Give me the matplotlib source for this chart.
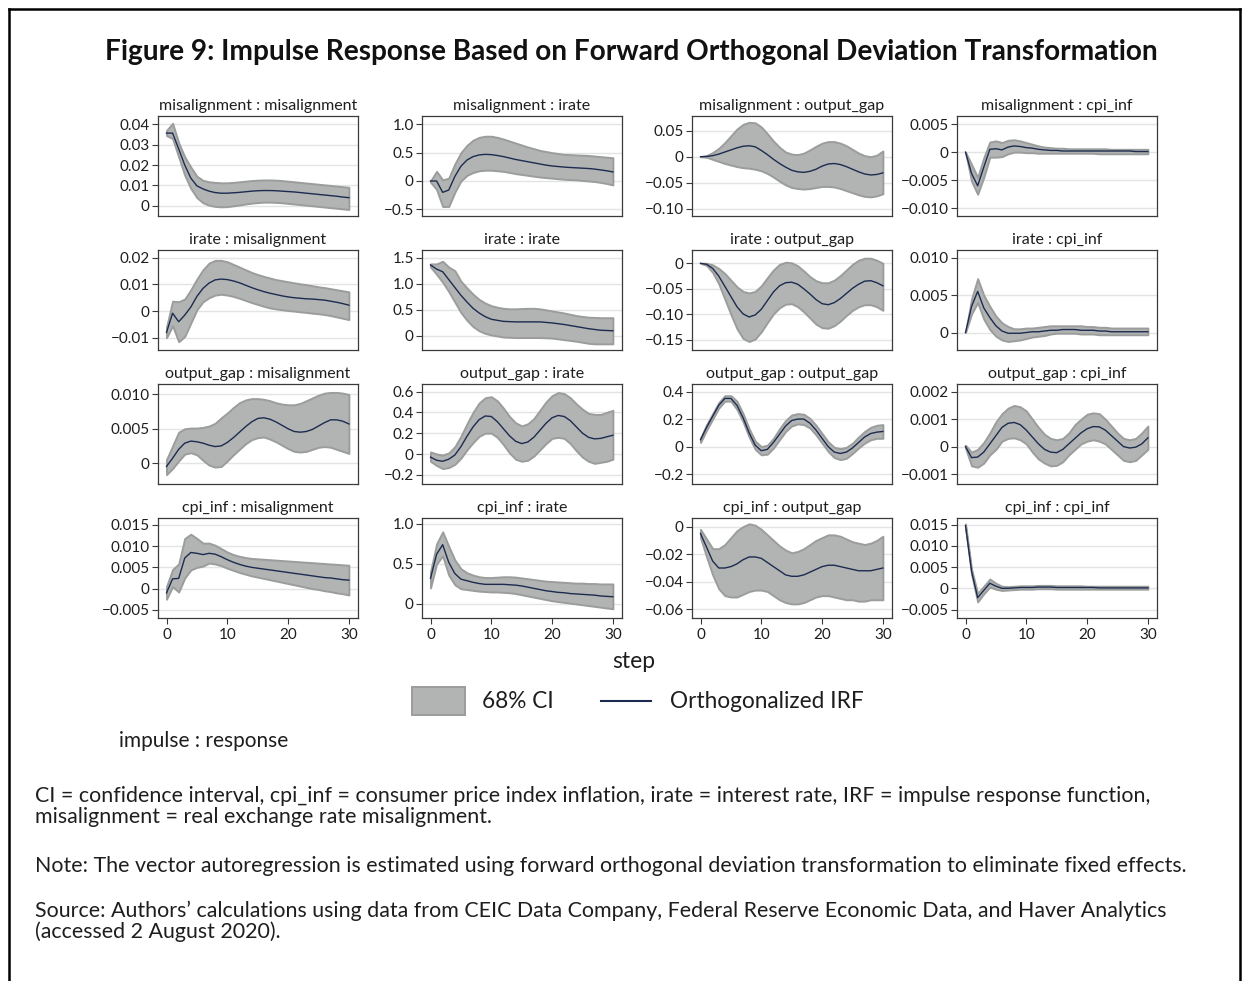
import numpy as np
import matplotlib
matplotlib.use("Agg")
import matplotlib.pyplot as plt
from matplotlib.lines import Line2D
from matplotlib.patches import Rectangle

plt.rcParams['font.family'] = ['Lato', 'DejaVu Sans']

W, H = 1246, 981

steps = np.arange(31)
variables = ["misalignment", "irate", "output_gap", "cpi_inf"]

# ---- impulse: misalignment ----
mis_mis_irf = [0.0357,0.0357,0.0280,0.0200,0.0136,0.0098,0.0083,0.0072,0.0065,0.0062,0.0062,0.0064,0.0066,0.0069,0.0072,0.0074,0.0075,0.0075,0.0074,0.0072,0.0070,0.0068,0.0065,0.0062,0.0059,0.0056,0.0053,0.0050,0.0047,0.0043,0.0040]
mis_mis_lo = [0.0345,0.0330,0.0240,0.0150,0.0085,0.0040,0.0015,0.0003,-0.0003,-0.0005,-0.0004,0.0000,0.0004,0.0009,0.0013,0.0016,0.0018,0.0018,0.0017,0.0015,0.0012,0.0009,0.0006,0.0003,0.0000,-0.0003,-0.0006,-0.0009,-0.0012,-0.0015,-0.0018]
mis_mis_hi = [0.0370,0.0405,0.0310,0.0240,0.0190,0.0145,0.0125,0.0118,0.0115,0.0113,0.0113,0.0115,0.0118,0.0121,0.0124,0.0126,0.0127,0.0127,0.0126,0.0124,0.0121,0.0118,0.0115,0.0112,0.0109,0.0106,0.0103,0.0100,0.0097,0.0094,0.0091]

mis_irate_irf = [0.0,0.0,-0.20,-0.16,0.08,0.26,0.37,0.43,0.46,0.47,0.465,0.45,0.43,0.405,0.38,0.36,0.34,0.32,0.30,0.28,0.265,0.255,0.245,0.238,0.232,0.226,0.22,0.21,0.195,0.18,0.16]
mis_irate_lo = [-0.02,-0.15,-0.45,-0.45,-0.20,0.0,0.10,0.15,0.18,0.19,0.19,0.18,0.17,0.15,0.13,0.115,0.10,0.085,0.07,0.06,0.05,0.04,0.03,0.025,0.02,0.01,0.0,-0.01,-0.025,-0.045,-0.07]
mis_irate_hi = [0.0,0.17,0.02,0.05,0.30,0.50,0.63,0.72,0.77,0.79,0.79,0.77,0.74,0.705,0.67,0.635,0.60,0.57,0.54,0.52,0.50,0.485,0.47,0.465,0.46,0.455,0.45,0.44,0.43,0.42,0.41]

mis_gap_irf = [0.0,0.0005,0.002,0.005,0.009,0.013,0.017,0.020,0.021,0.019,0.012,0.004,-0.005,-0.013,-0.020,-0.026,-0.029,-0.030,-0.028,-0.024,-0.018,-0.014,-0.013,-0.015,-0.019,-0.024,-0.029,-0.033,-0.035,-0.034,-0.031]
mis_gap_lo = [0.0,-0.001,-0.005,-0.009,-0.013,-0.016,-0.019,-0.021,-0.022,-0.024,-0.027,-0.032,-0.039,-0.047,-0.054,-0.059,-0.061,-0.062,-0.061,-0.059,-0.057,-0.057,-0.058,-0.061,-0.065,-0.069,-0.073,-0.076,-0.077,-0.075,-0.071]
mis_gap_hi = [0.0,0.002,0.008,0.016,0.027,0.040,0.053,0.062,0.066,0.065,0.057,0.044,0.030,0.018,0.009,0.005,0.004,0.007,0.013,0.020,0.026,0.029,0.029,0.026,0.021,0.014,0.007,0.002,0.000,0.003,0.011]

mis_cpi_irf = [0.0,-0.0038,-0.0060,-0.0027,0.0005,0.0006,0.0004,0.0009,0.0011,0.0010,0.0008,0.0007,0.0005,0.0004,0.0003,0.0003,0.0002,0.0002,0.0002,0.0002,0.0002,0.0002,0.0002,0.0002,0.0002,0.0002,0.0002,0.0002,0.0001,0.0001,0.0001]
mis_cpi_lo = [0.0,-0.0052,-0.0075,-0.0045,-0.0009,-0.0009,-0.0008,-0.0003,0.0000,0.0000,-0.0001,-0.0001,-0.0002,-0.0002,-0.0002,-0.0002,-0.0002,-0.0002,-0.0002,-0.0002,-0.0002,-0.0002,-0.0003,-0.0003,-0.0003,-0.0003,-0.0003,-0.0003,-0.0003,-0.0003,-0.0003]
mis_cpi_hi = [0.0,-0.0022,-0.0045,-0.0010,0.0018,0.0020,0.0017,0.0021,0.0022,0.0020,0.0017,0.0014,0.0011,0.0009,0.0008,0.0007,0.0007,0.0006,0.0006,0.0006,0.0006,0.0006,0.0006,0.0006,0.0005,0.0005,0.0005,0.0005,0.0005,0.0005,0.0005]

# ---- impulse: irate ----
irate_mis_irf = [-0.0080,-0.0008,-0.0040,-0.0015,0.0015,0.0055,0.0085,0.0105,0.0117,0.0120,0.0118,0.0113,0.0106,0.0097,0.0088,0.0080,0.0073,0.0067,0.0062,0.0057,0.0053,0.0050,0.0048,0.0046,0.0045,0.0043,0.0041,0.0037,0.0033,0.0028,0.0022]
irate_mis_lo = [-0.0100,-0.0055,-0.0115,-0.0095,-0.0045,0.0005,0.0035,0.0050,0.0060,0.0063,0.0060,0.0055,0.0048,0.0040,0.0032,0.0025,0.0018,0.0012,0.0008,0.0005,0.0002,0.0000,-0.0003,-0.0005,-0.0008,-0.0010,-0.0013,-0.0017,-0.0022,-0.0027,-0.0032]
irate_mis_hi = [-0.0060,0.0037,0.0035,0.0045,0.0080,0.0120,0.0155,0.0180,0.0190,0.0190,0.0185,0.0175,0.0165,0.0155,0.0145,0.0137,0.0130,0.0124,0.0118,0.0114,0.0110,0.0106,0.0102,0.0099,0.0095,0.0091,0.0088,0.0084,0.0080,0.0076,0.0072]

irate_irate_irf = [1.36,1.28,1.23,1.08,0.93,0.78,0.65,0.53,0.44,0.37,0.32,0.30,0.28,0.275,0.27,0.27,0.27,0.27,0.27,0.26,0.25,0.235,0.22,0.20,0.18,0.16,0.14,0.125,0.11,0.105,0.10]
irate_irate_lo = [1.32,1.18,1.03,0.85,0.65,0.45,0.30,0.18,0.10,0.05,0.02,0.0,-0.02,-0.025,-0.03,-0.03,-0.03,-0.03,-0.03,-0.035,-0.04,-0.055,-0.07,-0.085,-0.10,-0.12,-0.14,-0.15,-0.15,-0.15,-0.15]
irate_irate_hi = [1.38,1.38,1.43,1.32,1.25,1.05,0.92,0.80,0.70,0.63,0.58,0.55,0.53,0.52,0.52,0.525,0.53,0.53,0.52,0.50,0.48,0.46,0.44,0.415,0.39,0.375,0.36,0.355,0.35,0.35,0.35]

irate_gap_irf = [0.0,-0.002,-0.010,-0.025,-0.045,-0.065,-0.085,-0.099,-0.105,-0.101,-0.090,-0.073,-0.056,-0.044,-0.038,-0.037,-0.041,-0.050,-0.060,-0.071,-0.079,-0.081,-0.077,-0.069,-0.059,-0.049,-0.041,-0.035,-0.034,-0.038,-0.044]
irate_gap_lo = [0.0,-0.004,-0.018,-0.040,-0.070,-0.100,-0.128,-0.147,-0.153,-0.148,-0.134,-0.116,-0.099,-0.087,-0.080,-0.079,-0.085,-0.095,-0.107,-0.119,-0.126,-0.127,-0.122,-0.113,-0.102,-0.092,-0.085,-0.081,-0.081,-0.085,-0.092]
irate_gap_hi = [0.0,0.0,-0.003,-0.010,-0.020,-0.033,-0.046,-0.055,-0.058,-0.055,-0.044,-0.028,-0.013,-0.002,0.002,0.001,-0.005,-0.015,-0.026,-0.034,-0.038,-0.038,-0.033,-0.024,-0.013,-0.002,0.006,0.010,0.010,0.006,0.000]

irate_cpi_irf = [0.0,0.0035,0.0055,0.0033,0.0020,0.0009,0.0002,-0.0001,-0.0001,-0.0001,0.0000,0.0001,0.0001,0.0002,0.0003,0.0003,0.0004,0.0004,0.0004,0.0003,0.0003,0.0003,0.0002,0.0002,0.0001,0.0001,0.0001,0.0001,0.0001,0.0001,0.0001]
irate_cpi_lo = [0.0,0.0025,0.0040,0.0018,0.0004,-0.0005,-0.0010,-0.0012,-0.0011,-0.0010,-0.0008,-0.0006,-0.0005,-0.0004,-0.0002,-0.0001,-0.0001,-0.0001,-0.0001,-0.0002,-0.0002,-0.0002,-0.0003,-0.0003,-0.0003,-0.0003,-0.0003,-0.0003,-0.0003,-0.0003,-0.0003]
irate_cpi_hi = [0.0,0.0045,0.0072,0.0050,0.0035,0.0022,0.0013,0.0008,0.0005,0.0005,0.0006,0.0006,0.0007,0.0008,0.0009,0.0009,0.0009,0.0009,0.0009,0.0009,0.0008,0.0008,0.0007,0.0007,0.0006,0.0006,0.0006,0.0006,0.0006,0.0006,0.0006]

# ---- impulse: output_gap ----
gap_mis_irf = [-0.0005,0.0007,0.0020,0.0029,0.0032,0.0031,0.0029,0.0026,0.0024,0.0025,0.0030,0.0037,0.0045,0.0053,0.0060,0.0065,0.0066,0.0064,0.0060,0.0055,0.0050,0.0046,0.0045,0.0046,0.0049,0.0054,0.0059,0.0063,0.0063,0.0061,0.0057]
gap_mis_lo = [-0.0017,-0.0008,0.0003,0.0013,0.0015,0.0012,0.0004,-0.0003,-0.0006,-0.0005,0.0003,0.0012,0.0020,0.0028,0.0034,0.0037,0.0038,0.0035,0.0031,0.0026,0.0021,0.0017,0.0016,0.0017,0.0020,0.0023,0.0024,0.0023,0.0020,0.0017,0.0014]
gap_mis_hi = [0.0005,0.0025,0.0045,0.0050,0.0051,0.0051,0.0052,0.0054,0.0058,0.0066,0.0073,0.0081,0.0088,0.0092,0.0094,0.0094,0.0093,0.0091,0.0088,0.0086,0.0085,0.0085,0.0087,0.0091,0.0095,0.0099,0.0102,0.0103,0.0103,0.0102,0.0100]

gap_irate_irf = [-0.03,-0.06,-0.07,-0.05,-0.01,0.07,0.17,0.26,0.33,0.365,0.36,0.31,0.242,0.174,0.122,0.10,0.115,0.161,0.228,0.295,0.348,0.37,0.36,0.32,0.26,0.20,0.16,0.145,0.15,0.165,0.18]
gap_irate_lo = [-0.07,-0.11,-0.14,-0.13,-0.10,-0.04,0.04,0.11,0.17,0.20,0.20,0.16,0.09,0.01,-0.05,-0.07,-0.06,-0.02,0.04,0.10,0.15,0.16,0.15,0.10,0.03,-0.03,-0.07,-0.09,-0.08,-0.07,-0.05]
gap_irate_hi = [0.02,0.0,-0.01,0.01,0.07,0.17,0.29,0.40,0.49,0.54,0.55,0.51,0.44,0.36,0.30,0.27,0.29,0.34,0.42,0.50,0.56,0.59,0.58,0.54,0.48,0.43,0.39,0.38,0.38,0.40,0.42]

gap_gap_irf = [0.05,0.14,0.22,0.30,0.35,0.35,0.30,0.21,0.10,0.01,-0.03,-0.02,0.03,0.09,0.15,0.19,0.20,0.20,0.17,0.12,0.06,0.0,-0.04,-0.05,-0.04,-0.01,0.03,0.07,0.095,0.105,0.11]
gap_gap_lo = [0.03,0.12,0.20,0.28,0.33,0.33,0.27,0.18,0.07,-0.02,-0.06,-0.055,-0.01,0.05,0.11,0.15,0.165,0.16,0.135,0.085,0.025,-0.035,-0.08,-0.095,-0.085,-0.05,-0.01,0.025,0.05,0.06,0.06]
gap_gap_hi = [0.06,0.16,0.24,0.32,0.37,0.37,0.33,0.24,0.13,0.04,0.0,0.01,0.06,0.13,0.19,0.23,0.24,0.235,0.205,0.155,0.095,0.035,-0.005,-0.015,-0.005,0.025,0.07,0.11,0.14,0.155,0.16]

gap_cpi_irf = [0.0,-0.00040,-0.00038,-0.00020,0.00010,0.00040,0.00070,0.00085,0.00088,0.00080,0.00060,0.00035,0.00010,-0.00010,-0.00020,-0.00022,-0.00010,0.00010,0.00030,0.00050,0.00065,0.00073,0.00072,0.00060,0.00040,0.00020,0.00000,-0.00005,-0.00002,0.00010,0.00032]
gap_cpi_lo = [-0.00005,-0.00070,-0.00075,-0.00060,-0.00030,-0.00010,0.00020,0.00030,0.00032,0.00025,0.00010,-0.00020,-0.00045,-0.00060,-0.00070,-0.00068,-0.00055,-0.00030,-0.00010,0.00010,0.00020,0.00025,0.00020,0.00010,-0.00010,-0.00030,-0.00050,-0.00055,-0.00050,-0.00030,-0.00010]
gap_cpi_hi = [0.00005,-0.00020,-0.00010,0.00015,0.00050,0.00090,0.00120,0.00140,0.00150,0.00145,0.00130,0.00100,0.00070,0.00045,0.00030,0.00025,0.00030,0.00050,0.00080,0.00100,0.00118,0.00123,0.00120,0.00100,0.00075,0.00050,0.00030,0.00025,0.00030,0.00050,0.00075]

# ---- impulse: cpi_inf ----
cpi_mis_irf = [-0.0010,0.0023,0.0024,0.0072,0.0085,0.0083,0.0080,0.0083,0.0081,0.0075,0.0068,0.0062,0.0057,0.0053,0.0050,0.0048,0.0046,0.0044,0.0042,0.0040,0.0038,0.0036,0.0034,0.0032,0.0030,0.0028,0.0026,0.0025,0.0023,0.0021,0.0020]
cpi_mis_lo = [-0.0025,0.0005,-0.0008,0.0025,0.0044,0.0050,0.0053,0.0060,0.0058,0.0054,0.0048,0.0043,0.0038,0.0034,0.0030,0.0027,0.0024,0.0021,0.0018,0.0015,0.0012,0.0009,0.0006,0.0003,0.0000,-0.0002,-0.0005,-0.0007,-0.0010,-0.0012,-0.0015]
cpi_mis_hi = [0.0005,0.0045,0.0058,0.0118,0.0128,0.0118,0.0107,0.0107,0.0102,0.0094,0.0086,0.0080,0.0076,0.0073,0.0071,0.0070,0.0069,0.0068,0.0067,0.0066,0.0065,0.0064,0.0063,0.0062,0.0061,0.0060,0.0059,0.0058,0.0057,0.0056,0.0055]

cpi_irate_irf = [0.32,0.62,0.74,0.52,0.38,0.31,0.29,0.27,0.255,0.245,0.245,0.245,0.245,0.24,0.235,0.225,0.21,0.195,0.18,0.165,0.155,0.145,0.14,0.13,0.125,0.12,0.115,0.11,0.10,0.095,0.09]
cpi_irate_lo = [0.20,0.50,0.60,0.36,0.24,0.19,0.18,0.17,0.16,0.155,0.15,0.15,0.145,0.14,0.13,0.115,0.10,0.085,0.07,0.055,0.04,0.03,0.02,0.01,0.0,-0.01,-0.02,-0.03,-0.04,-0.05,-0.06]
cpi_irate_hi = [0.40,0.75,0.90,0.72,0.55,0.44,0.39,0.36,0.34,0.33,0.33,0.335,0.34,0.34,0.335,0.325,0.315,0.305,0.295,0.285,0.28,0.275,0.27,0.265,0.26,0.26,0.255,0.255,0.25,0.25,0.25]

cpi_gap_irf = [-0.005,-0.015,-0.025,-0.030,-0.030,-0.029,-0.027,-0.024,-0.022,-0.022,-0.023,-0.026,-0.029,-0.032,-0.035,-0.036,-0.036,-0.035,-0.033,-0.031,-0.029,-0.028,-0.028,-0.029,-0.030,-0.031,-0.032,-0.032,-0.032,-0.031,-0.030]
cpi_gap_lo = [-0.008,-0.022,-0.035,-0.045,-0.050,-0.051,-0.051,-0.049,-0.047,-0.046,-0.046,-0.047,-0.050,-0.053,-0.055,-0.056,-0.056,-0.055,-0.053,-0.051,-0.050,-0.050,-0.051,-0.052,-0.053,-0.053,-0.054,-0.054,-0.053,-0.053,-0.053]
cpi_gap_hi = [-0.002,-0.009,-0.016,-0.016,-0.013,-0.008,-0.003,0.000,0.002,0.001,-0.002,-0.006,-0.010,-0.014,-0.017,-0.019,-0.018,-0.016,-0.013,-0.010,-0.008,-0.006,-0.006,-0.007,-0.009,-0.011,-0.012,-0.013,-0.012,-0.010,-0.007]

cpi_cpi_irf = [0.0148,0.0040,-0.0022,-0.0005,0.0012,0.0005,0.0000,0.0000,0.0001,0.0002,0.0002,0.0002,0.0003,0.0003,0.0003,0.0002,0.0002,0.0002,0.0002,0.0002,0.0002,0.0002,0.0001,0.0001,0.0001,0.0001,0.0001,0.0001,0.0001,0.0001,0.0001]
cpi_cpi_lo = [0.0144,0.0033,-0.0032,-0.0013,0.0003,-0.0002,-0.0005,-0.0004,-0.0003,-0.0002,-0.0002,-0.0002,-0.0001,-0.0001,-0.0001,-0.0002,-0.0002,-0.0002,-0.0002,-0.0002,-0.0002,-0.0002,-0.0002,-0.0002,-0.0002,-0.0002,-0.0002,-0.0002,-0.0002,-0.0002,-0.0002]
cpi_cpi_hi = [0.0152,0.0045,-0.0012,0.0005,0.0022,0.0012,0.0005,0.0004,0.0005,0.0006,0.0006,0.0006,0.0007,0.0007,0.0007,0.0006,0.0006,0.0006,0.0006,0.0006,0.0005,0.0005,0.0005,0.0005,0.0005,0.0005,0.0005,0.0005,0.0005,0.0005,0.0005]

# y-axis ticks, label decimals and ranges for each panel (row = impulse, col = response)
yticks = [
    [[0, .01, .02, .03, .04], [-.5, 0, .5, 1.0], [-.10, -.05, 0, .05], [-.010, -.005, 0, .005]],
    [[-.01, 0, .01, .02], [0, .5, 1.0, 1.5], [-.15, -.10, -.05, 0], [0, .005, .010]],
    [[0, .005, .010], [-.2, 0, .2, .4, .6], [-.2, 0, .2, .4], [-.001, 0, .001, .002]],
    [[-.005, 0, .005, .010, .015], [0, .5, 1.0], [-.06, -.04, -.02, 0], [-.005, 0, .005, .010, .015]],
]
ydec = [[2, 1, 2, 3], [2, 1, 2, 3], [3, 1, 1, 3], [3, 1, 2, 3]]
ylims = [
    [(-0.005, 0.0441), (-0.618, 1.147), (-0.1136, 0.078), (-0.01137, 0.00643)],
    [(-0.0146, 0.0229), (-0.268, 1.646), (-0.1696, 0.026), (-0.00234, 0.01104)],
    [(-0.00306, 0.01153), (-0.288, 0.672), (-0.272, 0.455), (-0.00136, 0.00228)],
    [(-0.0069, 0.0166), (-0.175, 1.073), (-0.0662, 0.0062), (-0.007, 0.0166)],
]
xticks = [0, 10, 20, 30]

series = {
    (0, 0): (mis_mis_irf, mis_mis_lo, mis_mis_hi),
    (0, 1): (mis_irate_irf, mis_irate_lo, mis_irate_hi),
    (0, 2): (mis_gap_irf, mis_gap_lo, mis_gap_hi),
    (0, 3): (mis_cpi_irf, mis_cpi_lo, mis_cpi_hi),
    (1, 0): (irate_mis_irf, irate_mis_lo, irate_mis_hi),
    (1, 1): (irate_irate_irf, irate_irate_lo, irate_irate_hi),
    (1, 2): (irate_gap_irf, irate_gap_lo, irate_gap_hi),
    (1, 3): (irate_cpi_irf, irate_cpi_lo, irate_cpi_hi),
    (2, 0): (gap_mis_irf, gap_mis_lo, gap_mis_hi),
    (2, 1): (gap_irate_irf, gap_irate_lo, gap_irate_hi),
    (2, 2): (gap_gap_irf, gap_gap_lo, gap_gap_hi),
    (2, 3): (gap_cpi_irf, gap_cpi_lo, gap_cpi_hi),
    (3, 0): (cpi_mis_irf, cpi_mis_lo, cpi_mis_hi),
    (3, 1): (cpi_irate_irf, cpi_irate_lo, cpi_irate_hi),
    (3, 2): (cpi_gap_irf, cpi_gap_lo, cpi_gap_hi),
    (3, 3): (cpi_cpi_irf, cpi_cpi_lo, cpi_cpi_hi),
}

BAND_FACE = '#b2b4b4'
BAND_EDGE = '#9b9d9d'
LINE_COL = '#1c2b4f'
SPINE_COL = '#3a3a3a'
TEXT_COL = '#1e1e1e'


def fmt(v, d):
    if abs(v) < 1e-12:
        return "0"
    s = f"{abs(v):.{d}f}"
    return ("\u2212" + s) if v < 0 else s


def fig_xy(x, y):
    return x / W, 1 - y / H


fig = plt.figure(figsize=(W / 100, H / 100), dpi=100)
fig.patch.set_facecolor('white')

col_left = [158, 422, 692, 957]
col_w = 200
row_top = [116, 250, 384, 518]
row_h = 100

for r in range(4):
    for c in range(4):
        l, t = col_left[c], row_top[r]
        ax = fig.add_axes([l / W, 1 - (t + row_h) / H, col_w / W, row_h / H])
        irf, lo, hi = series[(r, c)]
        ax.fill_between(steps, lo, hi, facecolor=BAND_FACE, edgecolor=BAND_EDGE,
                        linewidth=1.4, zorder=2)
        ax.plot(steps, irf, color=LINE_COL, lw=1.0, zorder=3)
        ax.set_xlim(-1.4, 31.5)
        ax.set_ylim(*ylims[r][c])
        ax.set_yticks(yticks[r][c])
        ax.set_yticklabels([fmt(v, ydec[r][c]) for v in yticks[r][c]])
        ax.yaxis.grid(True, color='#e4e4e4', lw=1.0, zorder=0)
        ax.set_axisbelow(True)
        for sp in ax.spines.values():
            sp.set_color(SPINE_COL)
            sp.set_linewidth(0.9)
        ax.tick_params(axis='y', length=4, width=0.8, color=SPINE_COL,
                       labelsize=11, labelcolor=TEXT_COL, pad=2)
        ax.set_xticks(xticks)
        if r == 3:
            ax.tick_params(axis='x', length=4, width=0.8, color=SPINE_COL,
                           labelsize=11, labelcolor=TEXT_COL, pad=3)
        else:
            ax.tick_params(axis='x', bottom=False, labelbottom=False)
        ax.set_title(f"{variables[r]} : {variables[c]}", fontsize=11.5,
                     color=TEXT_COL, pad=4)

# headline
fig.text(*fig_xy(631, 52), "Figure 9: Impulse Response Based on Forward Orthogonal Deviation Transformation",
         ha='center', va='center', fontsize=20.2, fontweight='bold', color='#111111')

fig.text(*fig_xy(634, 661), "step", ha='center', va='center', fontsize=16.5, color=TEXT_COL)

# legend
x0, y0 = fig_xy(412, 715)
fig.add_artist(Rectangle((x0, y0), 53 / W, 28 / H, transform=fig.transFigure,
                         facecolor=BAND_FACE, edgecolor=BAND_EDGE, lw=1.4))
fig.text(*fig_xy(482, 702), "68% CI", ha='left', va='center', fontsize=16.3, color=TEXT_COL)
lx0, ly = fig_xy(601, 701)
lx1, _ = fig_xy(651, 701)
fig.add_artist(Line2D([lx0, lx1], [ly, ly], transform=fig.transFigure, color=LINE_COL, lw=1.5))
fig.text(*fig_xy(670, 702), "Orthogonalized IRF", ha='left', va='center', fontsize=16.3, color=TEXT_COL)

fig.text(*fig_xy(119, 741), "impulse : response", ha='left', va='center', fontsize=15, color=TEXT_COL)

notes = [
    (796, "CI = confidence interval, cpi_inf = consumer price index inflation, irate = interest rate, IRF = impulse response function,"),
    (817, "misalignment = real exchange rate misalignment."),
    (866, "Note: The vector autoregression is estimated using forward orthogonal deviation transformation to eliminate fixed effects."),
    (911, "Source: Authors\u2019 calculations using data from CEIC Data Company, Federal Reserve Economic Data, and Haver Analytics"),
    (932, "(accessed 2 August 2020)."),
]
for y, s in notes:
    fig.text(*fig_xy(35, y), s, ha='left', va='center', fontsize=15.4, color=TEXT_COL)

# frame around the figure
for xs, ys in [([9, 9], [9, 981]), ([9, 1240], [9, 9]), ([1240, 1240], [9, 981])]:
    fx = [x / W for x in xs]
    fy = [1 - y / H for y in ys]
    fig.add_artist(Line2D(fx, fy, transform=fig.transFigure, color='black', lw=1.8))

fig.savefig("out.png", dpi=100)
